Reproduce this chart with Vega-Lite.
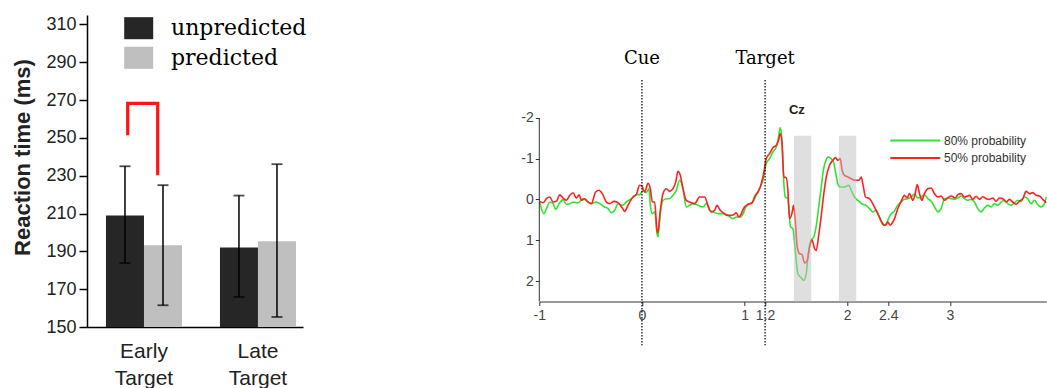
{
 "$schema": "https://vega.github.io/schema/vega-lite/v6.json",
 "padding": {"left": 11, "top": 13, "right": 0, "bottom": 0},
 "background": "white",
 "spacing": 236.3,
 "bounds": "flush",
 "config": {"view": {"stroke": null}, "axis": {"grid": false},
  "axisY": {"labelOverlap": false}},
 "resolve": {"scale": {"x": "independent", "y": "independent", "color": "independent", "xOffset": "independent"}, "legend": {"color": "independent"}},
 "datasets": {
  "bars": [
   {"target": "Early", "cond": "unpredicted", "rt": 209, "lo": 183.8, "hi": 235},
   {"target": "Early", "cond": "predicted", "rt": 193.2, "lo": 161.5, "hi": 225},
   {"target": "Late", "cond": "unpredicted", "rt": 192, "lo": 165.9, "hi": 219.5},
   {"target": "Late", "cond": "predicted", "rt": 195.4, "lo": 155.3, "hi": 236.1}
  ],
  "bracket": [
   {"target": "Early", "side": "L", "rt": 251.4, "i": 1},
   {"target": "Early", "side": "L", "rt": 268.3, "i": 2},
   {"target": "Early", "side": "R", "rt": 268.3, "i": 3},
   {"target": "Early", "side": "R", "rt": 230.3, "i": 4}
  ],
  "green": [
   {"t":-0.996,"v":0.061},{"t":-0.957,"v":0.347},{"t":-0.924,"v":0.184},{"t":-0.898,"v":0.061},{"t":-0.866,"v":0.102},{"t":-0.84,"v":0.241},{"t":-0.807,"v":0.102},{"t":-0.769,"v":0.004},{"t":-0.736,"v":0.118},{"t":-0.704,"v":0.102},{"t":-0.665,"v":0.061},{"t":-0.622,"v":0.086},{"t":-0.574,"v":-0.02},{"t":-0.535,"v":0.045},{"t":-0.493,"v":0.102},{"t":-0.444,"v":0.061},{"t":-0.395,"v":0.127},{"t":-0.363,"v":0.184},{"t":-0.33,"v":0.225},{"t":-0.298,"v":0.323},{"t":-0.266,"v":0.265},{"t":-0.233,"v":0.102},{"t":-0.191,"v":0.143},{"t":-0.152,"v":0.061},{"t":-0.103,"v":-0.02},{"t":-0.055,"v":-0.12},{"t":-0.022,"v":-0.12},{"t":0.01,"v":-0.22},{"t":0.043,"v":-0.17},{"t":0.069,"v":-0.27},{"t":0.082,"v":0.143},{"t":0.101,"v":0.347},{"t":0.124,"v":0.306},{"t":0.147,"v":0.837},{"t":0.156,"v":0.919},{"t":0.173,"v":0.47},{"t":0.205,"v":0.02},{"t":0.244,"v":-0.02},{"t":0.27,"v":-0.02},{"t":0.302,"v":-0.102},{"t":0.335,"v":-0.225},{"t":0.367,"v":-0.47},{"t":0.4,"v":-0.265},{"t":0.432,"v":0.184},{"t":0.465,"v":0.143},{"t":0.504,"v":0.102},{"t":0.546,"v":0.143},{"t":0.595,"v":0.184},{"t":0.627,"v":0.102},{"t":0.66,"v":0.265},{"t":0.698,"v":0.306},{"t":0.741,"v":0.347},{"t":0.789,"v":0.347},{"t":0.838,"v":0.388},{"t":0.887,"v":0.47},{"t":0.919,"v":0.429},{"t":0.958,"v":0.43},{"t":0.985,"v":0.35},{"t":1.01,"v":0.2},{"t":1.039,"v":0.118},{"t":1.081,"v":0.061},{"t":1.114,"v":-0.102},{"t":1.146,"v":-0.265},{"t":1.179,"v":-0.47},{"t":1.211,"v":-0.878},{"t":1.244,"v":-1.001},{"t":1.276,"v":-1.164},{"t":1.309,"v":-1.287},{"t":1.331,"v":-1.532},{"t":1.348,"v":-1.761},{"t":1.364,"v":-1.45},{"t":1.383,"v":-0.388},{"t":1.396,"v":-0.061},{"t":1.422,"v":-0.02},{"t":1.448,"v":0.674},{"t":1.471,"v":0.715},{"t":1.494,"v":1.246},{"t":1.52,"v":1.818},{"t":1.546,"v":1.9},{"t":1.578,"v":1.981},{"t":1.601,"v":1.818},{"t":1.617,"v":1.409},{"t":1.649,"v":1.001},{"t":1.675,"v":0.919},{"t":1.698,"v":0.65},{"t":1.722,"v":0.2},{"t":1.747,"v":-0.3},{"t":1.77,"v":-0.75},{"t":1.796,"v":-0.98},{"t":1.811,"v":-1.042},{"t":1.844,"v":-1.001},{"t":1.867,"v":-0.919},{"t":1.886,"v":-0.674},{"t":1.909,"v":-0.388},{"t":1.932,"v":-0.306},{"t":1.974,"v":-0.306},{"t":2.016,"v":-0.348},{"t":2.039,"v":-0.225},{"t":2.071,"v":-0.061},{"t":2.104,"v":0.02},{"t":2.152,"v":0.118},{"t":2.185,"v":0.143},{"t":2.218,"v":0.225},{"t":2.25,"v":0.306},{"t":2.283,"v":0.265},{"t":2.308,"v":0.388},{"t":2.331,"v":0.551},{"t":2.354,"v":0.633},{"t":2.38,"v":0.592},{"t":2.406,"v":0.45},{"t":2.428,"v":0.347},{"t":2.454,"v":0.306},{"t":2.493,"v":0.143},{"t":2.526,"v":0.061},{"t":2.558,"v":-0.004},{"t":2.591,"v":-0.02},{"t":2.623,"v":-0.061},{"t":2.656,"v":-0.135},{"t":2.688,"v":-0.037},{"t":2.721,"v":-0.061},{"t":2.753,"v":-0.118},{"t":2.786,"v":-0.02},{"t":2.818,"v":0.045},{"t":2.851,"v":0.184},{"t":2.883,"v":0.306},{"t":2.915,"v":0.225},{"t":2.948,"v":-0.02},{"t":2.98,"v":-0.037},{"t":3.013,"v":-0.02},{"t":3.045,"v":-0.004},{"t":3.078,"v":-0.037},{"t":3.11,"v":-0.086},{"t":3.143,"v":-0.02},{"t":3.175,"v":0.02},{"t":3.208,"v":-0.004},{"t":3.24,"v":0.061},{"t":3.272,"v":0.225},{"t":3.305,"v":0.306},{"t":3.337,"v":0.208},{"t":3.37,"v":0.143},{"t":3.402,"v":0.184},{"t":3.435,"v":0.102},{"t":3.467,"v":0.143},{"t":3.5,"v":0.061},{"t":3.532,"v":0.02},{"t":3.565,"v":0.102},{"t":3.597,"v":0.143},{"t":3.63,"v":0.078},{"t":3.662,"v":0.02},{"t":3.694,"v":0.045},{"t":3.727,"v":-0.061},{"t":3.759,"v":-0.02},{"t":3.792,"v":0.102},{"t":3.824,"v":0.02},{"t":3.857,"v":0.127},{"t":3.889,"v":0.184},{"t":3.922,"v":0.102},{"t":3.94,"v":-0.061}
  ],
  "red": [
   {"t":-0.996,"v":0.045},{"t":-0.963,"v":0.078},{"t":-0.931,"v":-0.02},{"t":-0.898,"v":-0.061},{"t":-0.866,"v":0.061},{"t":-0.833,"v":0.045},{"t":-0.801,"v":-0.118},{"t":-0.769,"v":-0.037},{"t":-0.736,"v":0.02},{"t":-0.704,"v":-0.102},{"t":-0.671,"v":-0.167},{"t":-0.639,"v":-0.037},{"t":-0.612,"v":-0.118},{"t":-0.59,"v":0.02},{"t":-0.558,"v":-0.02},{"t":-0.525,"v":0.061},{"t":-0.493,"v":0.102},{"t":-0.451,"v":-0.184},{"t":-0.418,"v":-0.225},{"t":-0.386,"v":-0.143},{"t":-0.347,"v":0.061},{"t":-0.314,"v":0.102},{"t":-0.275,"v":0.045},{"t":-0.233,"v":0.078},{"t":-0.191,"v":0.208},{"t":-0.168,"v":0.29},{"t":-0.136,"v":0.143},{"t":-0.087,"v":-0.06},{"t":-0.055,"v":-0.12},{"t":-0.022,"v":-0.35},{"t":0.004,"v":-0.31},{"t":0.027,"v":-0.18},{"t":0.059,"v":-0.4},{"t":0.082,"v":-0.265},{"t":0.101,"v":0.061},{"t":0.124,"v":0.061},{"t":0.147,"v":0.756},{"t":0.156,"v":0.813},{"t":0.179,"v":0.265},{"t":0.205,"v":-0.143},{"t":0.238,"v":-0.265},{"t":0.27,"v":-0.2},{"t":0.302,"v":-0.265},{"t":0.328,"v":-0.413},{"t":0.351,"v":-0.69},{"t":0.374,"v":-0.592},{"t":0.4,"v":-0.265},{"t":0.432,"v":0.02},{"t":0.465,"v":0.061},{"t":0.513,"v":0.102},{"t":0.562,"v":-0.061},{"t":0.611,"v":-0.061},{"t":0.643,"v":0.143},{"t":0.676,"v":0.306},{"t":0.708,"v":0.265},{"t":0.731,"v":0.143},{"t":0.763,"v":0.265},{"t":0.796,"v":0.331},{"t":0.828,"v":0.388},{"t":0.861,"v":0.388},{"t":0.893,"v":0.372},{"t":0.919,"v":0.323},{"t":0.945,"v":0.43},{"t":0.968,"v":0.35},{"t":0.985,"v":0.25},{"t":1.0,"v":0.184},{"t":1.033,"v":0.118},{"t":1.072,"v":0.086},{"t":1.104,"v":-0.102},{"t":1.13,"v":-0.184},{"t":1.163,"v":-0.388},{"t":1.189,"v":-0.674},{"t":1.211,"v":-1.001},{"t":1.244,"v":-1.123},{"t":1.276,"v":-1.27},{"t":1.309,"v":-1.328},{"t":1.331,"v":-1.45},{"t":1.348,"v":-1.614},{"t":1.364,"v":-1.409},{"t":1.383,"v":-0.551},{"t":1.406,"v":-0.535},{"t":1.422,"v":-0.225},{"t":1.438,"v":0.47},{"t":1.461,"v":0.347},{"t":1.477,"v":0.143},{"t":1.494,"v":0.511},{"t":1.513,"v":1.164},{"t":1.536,"v":1.328},{"t":1.559,"v":1.344},{"t":1.585,"v":1.556},{"t":1.611,"v":1.491},{"t":1.633,"v":1.164},{"t":1.656,"v":0.985},{"t":1.682,"v":1.205},{"t":1.698,"v":1.246},{"t":1.724,"v":0.85},{"t":1.747,"v":0.4},{"t":1.77,"v":-0.1},{"t":1.796,"v":-0.55},{"t":1.828,"v":-0.838},{"t":1.86,"v":-0.96},{"t":1.886,"v":-1.026},{"t":1.909,"v":-0.96},{"t":1.932,"v":-1.001},{"t":1.951,"v":-0.715},{"t":1.974,"v":-0.592},{"t":2.007,"v":-0.551},{"t":2.039,"v":-0.511},{"t":2.081,"v":-0.47},{"t":2.114,"v":-0.47},{"t":2.137,"v":-0.551},{"t":2.152,"v":-0.388},{"t":2.179,"v":-0.061},{"t":2.218,"v":-0.02},{"t":2.257,"v":0.143},{"t":2.289,"v":0.306},{"t":2.321,"v":0.47},{"t":2.347,"v":0.592},{"t":2.373,"v":0.633},{"t":2.396,"v":0.55},{"t":2.419,"v":0.63},{"t":2.445,"v":0.55},{"t":2.461,"v":0.47},{"t":2.493,"v":0.225},{"t":2.526,"v":0.045},{"t":2.558,"v":-0.102},{"t":2.584,"v":-0.037},{"t":2.607,"v":-0.143},{"t":2.64,"v":0.02},{"t":2.662,"v":-0.143},{"t":2.682,"v":-0.364},{"t":2.705,"v":-0.143},{"t":2.727,"v":0.02},{"t":2.753,"v":-0.143},{"t":2.786,"v":-0.265},{"t":2.818,"v":-0.282},{"t":2.851,"v":-0.143},{"t":2.883,"v":-0.061},{"t":2.915,"v":-0.086},{"t":2.948,"v":0.02},{"t":2.98,"v":-0.037},{"t":3.013,"v":-0.086},{"t":3.052,"v":-0.037},{"t":3.078,"v":-0.118},{"t":3.11,"v":-0.143},{"t":3.143,"v":-0.061},{"t":3.191,"v":-0.102},{"t":3.224,"v":-0.004},{"t":3.256,"v":-0.078},{"t":3.289,"v":-0.004},{"t":3.321,"v":-0.069},{"t":3.354,"v":-0.02},{"t":3.386,"v":-0.004},{"t":3.419,"v":-0.037},{"t":3.451,"v":0.045},{"t":3.483,"v":-0.037},{"t":3.516,"v":-0.02},{"t":3.548,"v":0.061},{"t":3.581,"v":-0.004},{"t":3.613,"v":0.061},{"t":3.646,"v":0.118},{"t":3.678,"v":0.045},{"t":3.711,"v":-0.02},{"t":3.743,"v":-0.2},{"t":3.776,"v":-0.143},{"t":3.808,"v":-0.168},{"t":3.841,"v":-0.102},{"t":3.873,"v":-0.086},{"t":3.906,"v":-0.004},{"t":3.94,"v":0.078}
  ],
  "windows": [{"t0": 1.481, "t1": 1.65}, {"t0": 1.919, "t1": 2.088}],
  "events": [{"t": 0, "label": "Cue"}, {"t": 1.2, "label": "Target"}]
 },
 "hconcat": [
  {
   "width": 216,
   "height": 312,
   "data": {"name": "bars"},
   "resolve": {"scale": {"xOffset": "independent"}},
   "layer": [
    {
     "mark": {"type": "bar"},
     "encoding": {
      "x": {"field": "target", "type": "nominal", "sort": ["Early", "Late"],
            "scale": {"paddingInner": 0.333, "paddingOuter": 0.114, "align": 0.73},
            "axis": {"title": null, "domainColor": "#000", "domainWidth": 1.5, "ticks": false, "labelAngle": 0,
                     "labelFont": "Liberation Sans", "labelFontSize": 21, "labelColor": "#222", "labelPadding": 13,
                     "labelLineHeight": 27, "labelBaseline": "top",
                     "labelExpr": "datum.value == 'Early' ? ['Early', 'Target'] : ['Late', 'Target']"}},
      "xOffset": {"field": "cond", "type": "nominal", "sort": ["unpredicted", "predicted"]},
      "y": {"field": "rt", "type": "quantitative",
            "scale": {"domain": [150, 315], "nice": false, "zero": false},
            "axis": {"title": "Reaction time  (ms)", "titleFont": "Liberation Sans", "titleFontSize": 22,
                     "titleFontWeight": "bold", "titleColor": "#222", "titleX": -57.3, "titleY": 142,
                     "titleBaseline": "alphabetic", "titleAlign": "center", "titleAngle": 270,
                     "values": [150, 170, 190, 210, 230, 250, 270, 290, 310], "labelOverlap": false,
                     "tickSize": 8, "tickColor": "#000", "tickWidth": 1.5, "domainColor": "#000", "domainWidth": 1.5,
                     "labelFont": "Liberation Sans", "labelFontSize": 18, "labelColor": "#222", "labelPadding": 3}},
      "y2": {"datum": 150},
      "color": {"field": "cond", "type": "nominal",
                "scale": {"domain": ["unpredicted", "predicted"], "range": ["#262626", "#bfbfbf"]},
                "legend": {"orient": "none", "legendX": 37.2, "legendY": -1.3, "title": null, "padding": 0,
                           "symbolType": "M-1,-0.76H1V0.76H-1Z", "symbolSize": 841, "symbolStrokeWidth": 0,
                           "labelOffset": 17.8, "labelFont": "DejaVu Serif", "labelFontSize": 22, "labelColor": "#000",
                           "rowPadding": 3.6, "labelLimit": 300}}
     }
    },
    {
     "mark": {"type": "rule", "color": "#000", "strokeWidth": 1.5},
     "encoding": {
      "x": {"field": "target", "type": "nominal", "sort": ["Early", "Late"]},
      "xOffset": {"field": "cond", "type": "nominal", "sort": ["unpredicted", "predicted"]},
      "y": {"field": "lo", "type": "quantitative", "scale": {"domain": [150, 315], "nice": false, "zero": false},
            "axis": {"title": "Reaction time  (ms)", "values": [150, 170, 190, 210, 230, 250, 270, 290, 310], "labelOverlap": false}},
      "y2": {"field": "hi"}
     }
    },
    {
     "mark": {"type": "tick", "color": "#000", "size": 11, "thickness": 1.8, "orient": "horizontal"},
     "encoding": {
      "x": {"field": "target", "type": "nominal", "sort": ["Early", "Late"]},
      "xOffset": {"field": "cond", "type": "nominal", "sort": ["unpredicted", "predicted"]},
      "y": {"field": "hi", "type": "quantitative", "scale": {"domain": [150, 315], "nice": false, "zero": false},
            "axis": {"title": "Reaction time  (ms)", "values": [150, 170, 190, 210, 230, 250, 270, 290, 310], "labelOverlap": false}}
     }
    },
    {
     "mark": {"type": "tick", "color": "#000", "size": 11, "thickness": 1.8, "orient": "horizontal"},
     "encoding": {
      "x": {"field": "target", "type": "nominal", "sort": ["Early", "Late"]},
      "xOffset": {"field": "cond", "type": "nominal", "sort": ["unpredicted", "predicted"]},
      "y": {"field": "lo", "type": "quantitative", "scale": {"domain": [150, 315], "nice": false, "zero": false},
            "axis": {"title": "Reaction time  (ms)", "values": [150, 170, 190, 210, 230, 250, 270, 290, 310], "labelOverlap": false}}
     }
    },
    {
     "data": {"name": "bracket"},
     "mark": {"type": "line", "color": "#ff1414", "strokeWidth": 3.2, "strokeCap": "butt", "strokeJoin": "miter"},
     "encoding": {
      "x": {"field": "target", "type": "nominal", "sort": ["Early", "Late"]},
      "xOffset": {"field": "side", "type": "nominal", "scale": {"domain": ["L", "R"], "padding": 0.767, "align": 0.472}},
      "y": {"field": "rt", "type": "quantitative", "scale": {"domain": [150, 315], "nice": false, "zero": false},
            "axis": {"title": "Reaction time  (ms)", "values": [150, 170, 190, 210, 230, 250, 270, 290, 310], "labelOverlap": false}},
      "order": {"field": "i", "type": "quantitative"}
     }
    }
   ]
  },
  {
   "width": 507,
   "height": 286.5,
   "layer": [
    {
     "data": {"name": "green"},
     "mark": {"type": "line", "strokeWidth": 1.6, "interpolate": "monotone"},
     "encoding": {
      "x": {"field": "t", "type": "quantitative", "scale": {"domain": [-1, 3.94], "nice": false, "zero": false},
            "axis": {"values": [-1, 0, 1, 1.2, 2, 2.4, 3], "labelExpr": "'' + datum.value", "title": null,
                     "domainColor": "#333", "tickColor": "#333", "tickSize": 4, "labelFont": "Liberation Sans",
                     "labelFontSize": 14, "labelColor": "#444", "labelPadding": 3, "labelFlush": false, "labelOverlap": false}},
      "y": {"field": "v", "type": "quantitative", "scale": {"domain": [-4.522, 2.5], "nice": false, "zero": false, "reverse": true},
            "axis": {"values": [-2, -1, 0, 1, 2], "domain": false, "labelExpr": "'' + datum.value", "title": null,
                     "tickSize": 4, "tickColor": "#333", "labelFont": "Liberation Sans", "labelFontSize": 14,
                     "labelColor": "#444", "labelPadding": 2}},
      "color": {"datum": "80% probability", "type": "nominal",
                "scale": {"domain": ["80% probability", "50% probability"], "range": ["#2ee62e", "#ff2020"]},
                "legend": {"orient": "none", "legendX": 370, "legendY": 119.5, "title": null, "padding": 0,
                           "symbolType": "M-5,0H5", "symbolSize": 100, "symbolStrokeWidth": 2,
                           "labelOffset": 22.7, "labelFont": "Liberation Sans", "labelFontSize": 12,
                           "labelColor": "#333", "rowPadding": 5.4}}
     }
    },
    {
     "data": {"name": "red"},
     "mark": {"type": "line", "strokeWidth": 1.6, "interpolate": "monotone"},
     "encoding": {
      "x": {"field": "t", "type": "quantitative"},
      "y": {"field": "v", "type": "quantitative"},
      "color": {"datum": "50% probability", "type": "nominal"}
     }
    },
    {
     "data": {"name": "windows"},
     "mark": {"type": "rect", "color": "#c0c0c0", "opacity": 0.5},
     "encoding": {
      "x": {"field": "t0", "type": "quantitative"},
      "x2": {"field": "t1"},
      "y": {"datum": -1.56},
      "y2": {"datum": 2.5}
     }
    },
    {
     "data": {"name": "events"},
     "mark": {"type": "rule", "color": "#000", "strokeDash": [1.5, 1.5], "strokeWidth": 1.2},
     "encoding": {
      "x": {"field": "t", "type": "quantitative"},
      "y": {"datum": -2.93},
      "y2": {"datum": 3.57}
     }
    },
    {
     "data": {"name": "events"},
     "mark": {"type": "text", "font": "DejaVu Serif", "fontSize": 18, "baseline": "alphabetic", "color": "#000"},
     "encoding": {
      "x": {"field": "t", "type": "quantitative"},
      "y": {"datum": -3.31},
      "text": {"field": "label"}
     }
    },
    {
     "data": {"values": [{"label": "Cz"}]},
     "mark": {"type": "text", "font": "Liberation Sans", "fontWeight": "bold", "fontSize": 13, "color": "#222"},
     "encoding": {
      "x": {"datum": 1.51},
      "y": {"datum": -2.2},
      "text": {"field": "label"}
     }
    },
    {
     "data": {"values": [{"axis": "y"}]},
     "mark": {"type": "rule", "color": "#333", "strokeWidth": 1},
     "encoding": {
      "x": {"datum": -1},
      "y": {"datum": -2},
      "y2": {"datum": 2.5}
     }
    }
   ]
  }
 ]
}
